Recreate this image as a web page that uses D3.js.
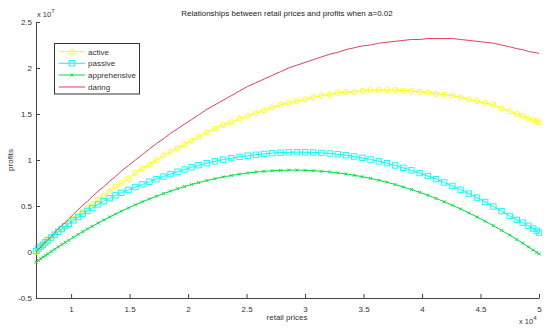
<!DOCTYPE html>
<html><head><meta charset="utf-8">
<script src="https://cdn.jsdelivr.net/npm/d3@7/dist/d3.min.js"></script>
<style>
html,body{margin:0;padding:0;background:#fff;}
svg{display:block;font-family:"Liberation Sans",Arial,sans-serif;}
</style></head>
<body>
<svg id="chart" width="550" height="331"></svg>
<script>
// retail prices (x 10^4)
const prices = [0.70,0.72,0.74,0.76,0.78,0.80,0.83,0.86,0.89,0.92,0.95,0.98,1.02,1.06,1.10,1.14,1.18,1.23,1.28,1.33,1.38,1.43,1.49,1.55,1.61,1.67,1.73,1.79,1.85,1.91,1.97,2.03,2.09,2.16,2.23,2.30,2.37,2.44,2.51,2.58,2.65,2.72,2.79,2.86,2.93,3.00,3.07,3.14,3.21,3.28,3.35,3.42,3.49,3.56,3.63,3.70,3.77,3.84,3.91,3.98,4.05,4.12,4.19,4.26,4.33,4.40,4.47,4.54,4.61,4.68,4.75,4.81,4.86,4.91,4.95,4.98,5.00];
// profits (x 10^7)
const active = [0.00,0.02,0.05,0.07,0.09,0.12,0.15,0.18,0.22,0.25,0.28,0.31,0.36,0.40,0.44,0.48,0.52,0.57,0.61,0.66,0.71,0.75,0.80,0.86,0.91,0.95,1.00,1.05,1.09,1.13,1.17,1.21,1.25,1.30,1.34,1.38,1.41,1.45,1.48,1.51,1.54,1.57,1.60,1.62,1.64,1.66,1.68,1.70,1.71,1.73,1.74,1.74,1.75,1.76,1.76,1.76,1.76,1.755,1.75,1.74,1.735,1.72,1.71,1.70,1.68,1.66,1.64,1.62,1.60,1.56,1.53,1.50,1.48,1.45,1.43,1.42,1.41];
const passive = [0.01,0.04,0.06,0.08,0.105,0.127,0.158,0.189,0.22,0.249,0.279,0.307,0.344,0.38,0.414,0.447,0.479,0.517,0.553,0.585,0.616,0.644,0.675,0.706,0.735,0.763,0.792,0.82,0.847,0.873,0.897,0.921,0.943,0.965,0.986,1.004,1.02,1.034,1.047,1.057,1.066,1.074,1.08,1.083,1.085,1.084,1.082,1.077,1.071,1.062,1.051,1.038,1.023,1.005,0.986,0.965,0.941,0.915,0.888,0.858,0.826,0.792,0.756,0.718,0.677,0.635,0.591,0.544,0.495,0.445,0.392,0.35,0.32,0.285,0.255,0.23,0.21];
const apprehensive = [-0.11,-0.092,-0.074,-0.056,-0.039,-0.021,0.005,0.03,0.055,0.08,0.104,0.128,0.16,0.191,0.221,0.25,0.279,0.314,0.348,0.381,0.413,0.444,0.479,0.513,0.546,0.577,0.607,0.635,0.662,0.688,0.711,0.734,0.754,0.777,0.797,0.816,0.832,0.846,0.859,0.869,0.877,0.883,0.887,0.89,0.89,0.888,0.884,0.878,0.87,0.86,0.848,0.834,0.818,0.80,0.78,0.758,0.734,0.707,0.679,0.649,0.617,0.582,0.546,0.508,0.468,0.425,0.381,0.334,0.286,0.235,0.183,0.136,0.096,0.055,0.022,-0.004,-0.021];
const daring = [0.00,0.03,0.05,0.08,0.11,0.13,0.17,0.21,0.25,0.29,0.32,0.36,0.41,0.46,0.51,0.55,0.60,0.66,0.71,0.77,0.82,0.88,0.94,1.00,1.06,1.12,1.18,1.23,1.29,1.34,1.39,1.44,1.49,1.55,1.60,1.65,1.70,1.75,1.80,1.84,1.88,1.92,1.96,2.00,2.03,2.06,2.09,2.12,2.15,2.17,2.20,2.22,2.24,2.25,2.27,2.28,2.29,2.30,2.31,2.31,2.32,2.32,2.32,2.32,2.31,2.30,2.29,2.28,2.27,2.25,2.23,2.21,2.20,2.18,2.17,2.165,2.16];

const seriesNames = ["active","passive","apprehensive","daring"];
const seriesColors = ["#ffff00","#00ffff","#00e040","#e0405a"];
const seriesMarkers = ["circle","square","x","none"];
const xTicks = [1,1.5,2,2.5,3,3.5,4,4.5,5];
const yTicks = [-0.5,0,0.5,1,1.5,2,2.5];

const seriesValues = [active, passive, apprehensive, daring];
const svg = d3.select("#chart");
const x = d3.scaleLinear().domain([0.7,5]).range([36,539]);
const y = d3.scaleLinear().domain([-0.5,2.5]).range([298,22]);

// title
svg.append("text").attr("x",287).attr("y",16).attr("text-anchor","middle")
  .attr("font-size",8).attr("fill","#222")
  .text("Relationships between retail prices and profits when a=0.02");

// axes
const fmt = d => String(d);
const gx = svg.append("g").attr("transform","translate(0,298)")
  .call(d3.axisBottom(x).tickValues(xTicks).tickFormat(fmt).tickSizeInner(-4).tickSizeOuter(0).tickPadding(8));
const gy = svg.append("g").attr("transform","translate(36,0)")
  .call(d3.axisLeft(y).tickValues(yTicks).tickFormat(fmt).tickSizeInner(-4).tickSizeOuter(0).tickPadding(4));
[gx,gy].forEach(g=>{
  g.select(".domain").attr("stroke","#444");
  g.selectAll(".tick line").attr("stroke","#444");
  g.selectAll(".tick text").attr("font-size",8).attr("fill","#333").attr("font-family","Liberation Sans, Arial, sans-serif");
});

// exponent labels
const e7 = svg.append("text").attr("x",37).attr("y",17).attr("font-size",7.5).attr("fill","#333");
e7.append("tspan").text("x 10");
e7.append("tspan").attr("dy",-4).attr("font-size",6).text("7");
const e4 = svg.append("text").attr("x",519).attr("y",324).attr("font-size",7.5).attr("fill","#333");
e4.append("tspan").text("x 10");
e4.append("tspan").attr("dy",-4).attr("font-size",6).text("4");

// axis labels
svg.append("text").attr("x",287).attr("y",320).attr("text-anchor","middle")
  .attr("font-size",8).attr("fill","#333").text("retail prices");
svg.append("text").attr("transform","translate(13,160) rotate(-90)").attr("text-anchor","middle")
  .attr("font-size",8).attr("fill","#333").text("profits");

const line = d3.line().x((d,i)=>x(prices[i])).y(d=>y(d));

function drawMarker(g, type, cx, cy, color){
  if(type==="circle"){
    g.append("circle").attr("cx",cx).attr("cy",cy).attr("r",2.6)
      .attr("fill","none").attr("stroke",color).attr("stroke-width",0.9);
  } else if(type==="square"){
    g.append("rect").attr("x",cx-2.7).attr("y",cy-2.7).attr("width",5.4).attr("height",5.4)
      .attr("fill","none").attr("stroke",color).attr("stroke-width",0.9);
  } else if(type==="x"){
    const s=1.5;
    g.append("path").attr("d",`M${cx-s},${cy-s}L${cx+s},${cy+s}M${cx-s},${cy+s}L${cx+s},${cy-s}`)
      .attr("stroke",color).attr("stroke-width",0.9);
  }
}

// draw order: active, passive, apprehensive, daring
seriesValues.forEach((vals,k)=>{
  const g = svg.append("g");
  g.append("path").datum(vals).attr("d",line).attr("fill","none")
    .attr("stroke",seriesColors[k]).attr("stroke-width",1);
  if(seriesMarkers[k]!=="none"){
    vals.forEach((v,i)=>drawMarker(g, seriesMarkers[k], x(prices[i]), y(v), seriesColors[k]));
  }
});

// legend
const lg = svg.append("g");
lg.append("rect").attr("x",54.5).attr("y",43.5).attr("width",85).attr("height",50.5)
  .attr("fill","#fff").attr("stroke","#333").attr("stroke-width",1);
const legY = [51.7,63.3,75,87];
seriesNames.forEach((name,k)=>{
  const yy = legY[k];
  lg.append("line").attr("x1",59).attr("x2",85).attr("y1",yy).attr("y2",yy)
    .attr("stroke",seriesColors[k]).attr("stroke-width",1);
  if(seriesMarkers[k]!=="none") drawMarker(lg, seriesMarkers[k], 72, yy, seriesColors[k]);
  lg.append("text").attr("x",88).attr("y",yy+3).attr("font-size",8).attr("fill","#333").text(name);
});
</script>
</body></html>
